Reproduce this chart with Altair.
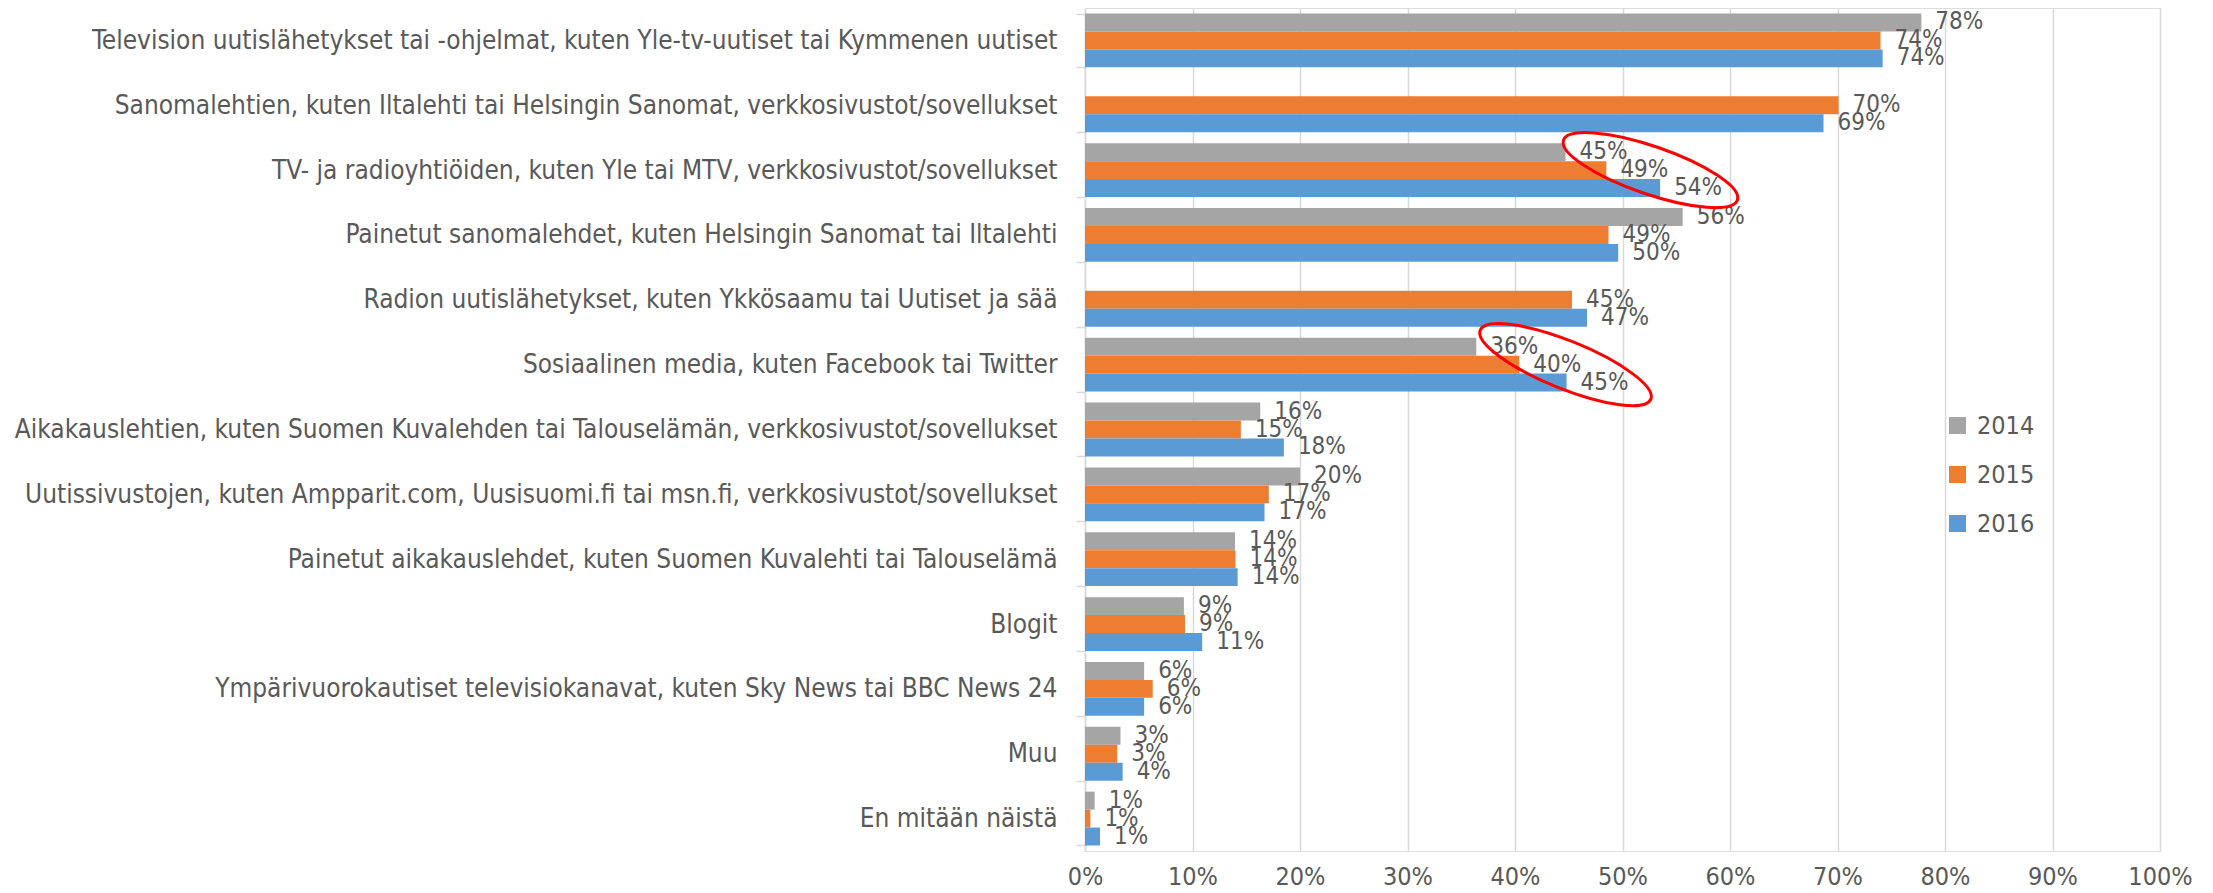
import altair as alt
import pandas as pd

categories = [
    "Television uutislähetykset tai -ohjelmat, kuten Yle-tv-uutiset tai Kymmenen uutiset",
    "Sanomalehtien, kuten Iltalehti tai Helsingin Sanomat, verkkosivustot/sovellukset",
    "TV- ja radioyhtiöiden, kuten Yle tai MTV, verkkosivustot/sovellukset",
    "Painetut sanomalehdet, kuten Helsingin Sanomat tai Iltalehti",
    "Radion uutislähetykset, kuten Ykkösaamu tai Uutiset ja sää",
    "Sosiaalinen media, kuten Facebook tai Twitter",
    "Aikakauslehtien, kuten Suomen Kuvalehden tai Talouselämän, verkkosivustot/sovellukset",
    "Uutissivustojen, kuten Ampparit.com, Uusisuomi.fi tai msn.fi, verkkosivustot/sovellukset",
    "Painetut aikakauslehdet, kuten Suomen Kuvalehti tai Talouselämä",
    "Blogit",
    "Ympärivuorokautiset televisiokanavat, kuten Sky News tai BBC News 24",
    "Muu",
    "En mitään näistä",
]
years = ["2014", "2015", "2016"]

v2014 = [77.8, None, 44.7, 55.6, None, 36.4, 16.3, 20.0, 13.95, 9.2, 5.5, 3.3, 0.9]
v2015 = [74.0, 70.1, 48.5, 48.7, 45.3, 40.4, 14.5, 17.1, 14.0, 9.3, 6.3, 3.0, 0.5]
v2016 = [74.2, 68.7, 53.5, 49.6, 46.7, 44.8, 18.5, 16.7, 14.2, 10.9, 5.5, 3.5, 1.4]

l2014 = ["78%", None, "45%", "56%", None, "36%", "16%", "20%", "14%", "9%", "6%", "3%", "1%"]
l2015 = ["74%", "70%", "49%", "49%", "45%", "40%", "15%", "17%", "14%", "9%", "6%", "3%", "1%"]
l2016 = ["74%", "69%", "54%", "50%", "47%", "45%", "18%", "17%", "14%", "11%", "6%", "4%", "1%"]

x_ticks = [0, 10, 20, 30, 40, 50, 60, 70, 80, 90, 100]

# annotation ellipses (red circles drawn around labels)
ann_cats = [categories[2], categories[5]]
ann_x = [52.6, 44.7]
ann_angle = [19, 22]

colors = ["#A5A5A5", "#ED7D31", "#5B9BD5"]
FONT = "DejaVu Sans Condensed"
TXT = "#595959"

rows = []
for yr, vals, labs in zip(years, [v2014, v2015, v2016], [l2014, l2015, l2016]):
    for c, v, l in zip(categories, vals, labs):
        if v is not None:
            rows.append({"cat": c, "year": yr, "value": v, "label": l})
df = pd.DataFrame(rows)

ann = pd.DataFrame({"cat": ann_cats, "x": ann_x, "angle": ann_angle})

y_enc = alt.Y("cat:N", sort=categories, title=None,
              scale=alt.Scale(paddingInner=0.17, paddingOuter=0.085),
              axis=alt.Axis(labelFont=FONT, labelFontSize=26, labelColor=TXT,
                            labelLimit=1100, labelPadding=19,
                            domain=True, domainColor="#D9D9D9", domainWidth=1.5,
                            ticks=True, tickBand="extent", tickSize=9,
                            tickColor="#D9D9D9", tickWidth=1.5, grid=False))
x_enc = alt.X("value:Q", title=None,
              scale=alt.Scale(domain=[0, 100], nice=False),
              axis=alt.Axis(values=x_ticks, labelExpr="datum.value + '%'",
                            labelFont=FONT, labelFontSize=25, labelColor=TXT,
                            labelFlush=False, labelOverlap=False,
                            labelPadding=13, domain=False, ticks=False,
                            grid=True, gridColor="#D9D9D9", gridWidth=1.5))
yoff = alt.YOffset("year:N", scale=alt.Scale(domain=years, paddingInner=0, paddingOuter=0))

bars = alt.Chart(df).mark_bar().encode(
    x=x_enc,
    y=y_enc,
    yOffset=yoff,
    color=alt.Color("year:N", scale=alt.Scale(domain=years, range=colors),
                    legend=alt.Legend(title=None, orient="none", legendX=860, legendY=405,
                                      symbolType="square", symbolSize=289,
                                      symbolStrokeWidth=0,
                                      labelFont=FONT, labelFontSize=25, labelColor=TXT,
                                      labelOffset=7, rowPadding=23, padding=0)),
)

labels = alt.Chart(df).mark_text(align="left", baseline="middle", dx=14,
                                 font=FONT, fontSize=24, color=TXT).encode(
    x="value:Q",
    y=alt.Y("cat:N", sort=categories),
    yOffset=yoff,
    text="label:N",
)

k = 0.5523
r = 0.26
ell = (f"M 1 0 C 1 {k*r:.4f} {k:.4f} {r} 0 {r} "
       f"C {-k:.4f} {r} -1 {k*r:.4f} -1 0 "
       f"C -1 {-k*r:.4f} {-k:.4f} {-r} 0 {-r} "
       f"C {k:.4f} {-r} 1 {-k*r:.4f} 1 0 Z")

ellipses = alt.Chart(ann).mark_point(shape=ell, size=184 * 184, filled=False,
                                     stroke="#FF0000", strokeWidth=3, opacity=1).encode(
    x="x:Q",
    y=alt.Y("cat:N", sort=categories),
    angle=alt.Angle("angle:Q", scale=None),
)

chart = alt.layer(bars, labels, ellipses).properties(
    width=1075, height=843,
    autosize=alt.AutoSizeParams(type="none"),
    padding={"left": 1077, "top": 0, "right": 40, "bottom": 42},
).configure_view(stroke=None).configure(background="white")

chart.save("out.html", embed_options={"renderer": "svg", "actions": False})
